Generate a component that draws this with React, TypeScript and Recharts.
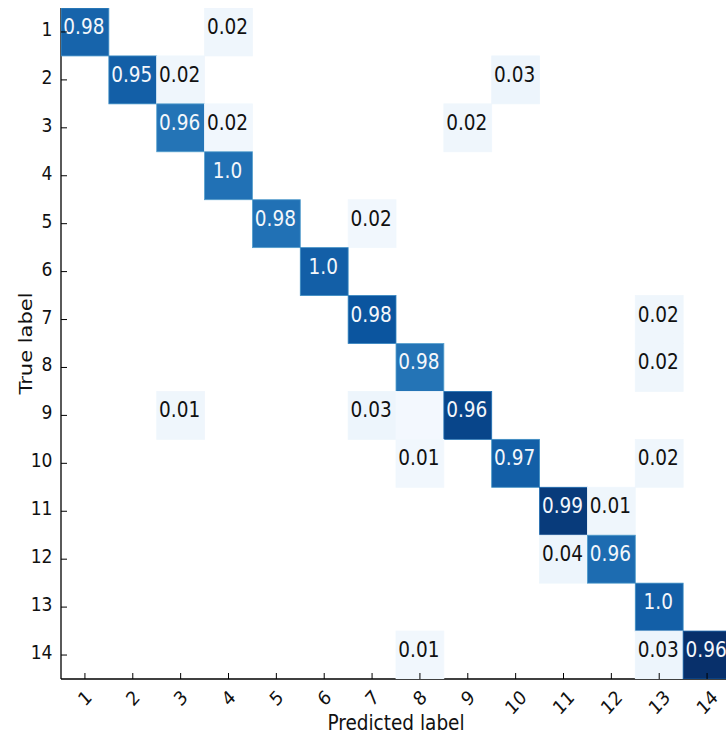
import { Label, Scatter, ScatterChart, XAxis, YAxis } from "recharts";

// class names on both axes
const classLabels = ["1", "2", "3", "4", "5", "6", "7", "8", "9", "10", "11", "12", "13", "14"];
const tickValues = [1, 2, 3, 4, 5, 6, 7, 8, 9, 10, 11, 12, 13, 14];

// non-empty cells of the matrix (true row, predicted column)
const cellRows = [1, 1, 2, 2, 2, 3, 3, 3, 4, 5, 5, 6, 7, 7, 8, 8, 9, 9, 9, 9, 10, 10, 10, 11, 11, 12, 12, 13, 14, 14, 14];
const cellCols = [1, 4, 2, 3, 10, 3, 4, 9, 4, 5, 7, 6, 7, 13, 8, 13, 3, 7, 8, 9, 8, 10, 13, 11, 12, 11, 12, 13, 8, 13, 14];
const cellText = [
  "0.98", "0.02", "0.95", "0.02", "0.03", "0.96", "0.02", "0.02", "1.0", "0.98", "0.02", "1.0", "0.98", "0.02",
  "0.98", "0.02", "0.01", "0.03", "", "0.96", "0.01", "0.97", "0.02", "0.99", "0.01", "0.04", "0.96", "1.0",
  "0.01", "0.03", "0.96",
];
// colour intensity on the Blues map (the image is coloured by counts, not by the printed share)
const cellShade = [
  0.8, 0.04, 0.82, 0.04, 0.05, 0.74, 0.03, 0.04, 0.75, 0.75, 0.03, 0.82, 0.86, 0.04, 0.74, 0.04, 0.04, 0.05, 0.02,
  0.92, 0.03, 0.82, 0.04, 0.96, 0.04, 0.05, 0.77, 0.82, 0.03, 0.05, 1.0,
];

const cells = cellRows.map((row, i) => ({
  row,
  col: cellCols[i],
  text: cellText[i],
  shade: cellShade[i],
}));

const CHART_W = 760;
const CHART_H = 738;
const MARGIN = { top: 8, right: 29, bottom: 0, left: 0 };
const Y_AXIS_W = 61;
const X_AXIS_H = 59;
const PLOT_W = CHART_W - MARGIN.left - MARGIN.right - Y_AXIS_W;
const PLOT_H = CHART_H - MARGIN.top - MARGIN.bottom - X_AXIS_H;
const N = classLabels.length;

const FONT = '"DejaVu Sans", "Bitstream Vera Sans", sans-serif';
const SQUEEZE = 0.88; // the source figure was squashed horizontally
const TICK_FS = 19.5;
const TICK_LEN = 6;

const BLUES = ["#f7fbff", "#deebf7", "#c6dbef", "#9ecae1", "#6baed6", "#4292c6", "#2171b5", "#08519c", "#08306b"];

function blues(t: number) {
  const v = Math.max(0, Math.min(1, t)) * (BLUES.length - 1);
  const i = Math.min(BLUES.length - 2, Math.floor(v));
  const f = v - i;
  const a = BLUES[i];
  const b = BLUES[i + 1];
  const ch = (s: string, k: number) => parseInt(s.slice(1 + 2 * k, 3 + 2 * k), 16);
  const out = [0, 1, 2].map((k) => Math.round(ch(a, k) + (ch(b, k) - ch(a, k)) * f));
  return `rgb(${out[0]},${out[1]},${out[2]})`;
}

function CellShape(props: any) {
  const { cx, cy, payload } = props;
  const w = PLOT_W / N;
  const h = PLOT_H / N;
  const dark = payload.shade > 0.5;
  return (
    <g>
      <rect
        x={cx - w / 2}
        y={cy - h / 2}
        width={w}
        height={h}
        fill={blues(payload.shade)}
        stroke={dark ? blues(payload.shade - 0.18) : blues(payload.shade)}
        strokeWidth={0.8}
      />
      {payload.text && (
        <text
          transform={`translate(${cx - 1},${cy + 2}) scale(${SQUEEZE},1)`}
          textAnchor="middle"
          fontSize={21}
          fontFamily={FONT}
          fill={dark ? "#f4f7fb" : "#111"}
        >
          {payload.text}
        </text>
      )}
    </g>
  );
}

function BottomTick(props: any) {
  const { x, y, payload } = props;
  const label = classLabels[payload.value - 1];
  const w = label.length * 0.636 * TICK_FS;
  const h = 1.164 * TICK_FS;
  const cy = y + 6.6 + (w + h) / 2.83;
  return (
    <g>
      <line x1={x} y1={y} x2={x} y2={y - TICK_LEN} stroke="#000" strokeWidth={1} />
      <text
        transform={`translate(${x},${cy}) scale(${SQUEEZE},1) rotate(-45)`}
        textAnchor="middle"
        dominantBaseline="central"
        fontSize={TICK_FS}
        fontFamily={FONT}
        fill="#111"
      >
        {label}
      </text>
    </g>
  );
}

function TopTick(props: any) {
  const { x, y } = props;
  return <line x1={x} y1={y} x2={x} y2={y + TICK_LEN} stroke="#000" strokeWidth={1} />;
}

function LeftTick(props: any) {
  const { x, y, payload } = props;
  return (
    <g>
      <line x1={x} y1={y} x2={x + TICK_LEN} y2={y} stroke="#000" strokeWidth={1} />
      <text
        transform={`translate(${x - 8.5},${y + 4}) scale(${SQUEEZE},1)`}
        textAnchor="end"
        fontSize={TICK_FS}
        fontFamily={FONT}
        fill="#111"
      >
        {classLabels[payload.value - 1]}
      </text>
    </g>
  );
}

function RightTick(props: any) {
  const { x, y } = props;
  return <line x1={x} y1={y} x2={x - TICK_LEN} y2={y} stroke="#000" strokeWidth={1} />;
}

function XTitle(props: any) {
  const { viewBox } = props;
  const cx = viewBox.x + viewBox.width / 2;
  return (
    <text
      transform={`translate(${cx},${viewBox.y + 51}) scale(${SQUEEZE},1)`}
      textAnchor="middle"
      fontSize={21}
      fontFamily={FONT}
      fill="#111"
    >
      Predicted label
    </text>
  );
}

function YTitle(props: any) {
  const { viewBox } = props;
  const cy = viewBox.y + viewBox.height / 2;
  return (
    <text
      transform={`translate(31.5,${cy}) scale(${SQUEEZE},1) rotate(-90)`}
      textAnchor="middle"
      fontSize={21}
      fontFamily={FONT}
      fill="#111"
    >
      True label
    </text>
  );
}

const spine = { stroke: "#000", strokeWidth: 1.3 };

export default function App() {
  return (
    <div
      style={{
        position: "absolute",
        left: 0,
        top: 0,
        width: 726,
        height: 738,
        overflow: "hidden",
        background: "#fff",
      }}
    >
      <ScatterChart width={CHART_W} height={CHART_H} margin={MARGIN}>
        <XAxis
          type="number"
          dataKey="col"
          domain={[0.5, N + 0.5]}
          ticks={tickValues}
          interval={0}
          height={X_AXIS_H}
          axisLine={spine}
          tickLine={false}
          tickSize={0}
          tickMargin={0}
          tick={BottomTick}
          allowDataOverflow
        >
          <Label content={XTitle} />
        </XAxis>
        <XAxis
          xAxisId="top"
          orientation="top"
          type="number"
          domain={[0.5, N + 0.5]}
          ticks={tickValues}
          interval={0}
          height={0}
          axisLine={spine}
          tickLine={false}
          tickSize={0}
          tickMargin={0}
          tick={TopTick}
          allowDataOverflow
        />
        <YAxis
          type="number"
          dataKey="row"
          reversed
          domain={[0.5, N + 0.5]}
          ticks={tickValues}
          interval={0}
          width={Y_AXIS_W}
          axisLine={spine}
          tickLine={false}
          tickSize={0}
          tickMargin={0}
          tick={LeftTick}
          allowDataOverflow
        >
          <Label content={YTitle} />
        </YAxis>
        <YAxis
          yAxisId="right"
          orientation="right"
          type="number"
          reversed
          domain={[0.5, N + 0.5]}
          ticks={tickValues}
          interval={0}
          width={0}
          axisLine={spine}
          tickLine={false}
          tickSize={0}
          tickMargin={0}
          tick={RightTick}
          allowDataOverflow
        />
        <Scatter data={cells} shape={CellShape} isAnimationActive={false} />
      </ScatterChart>
    </div>
  );
}
